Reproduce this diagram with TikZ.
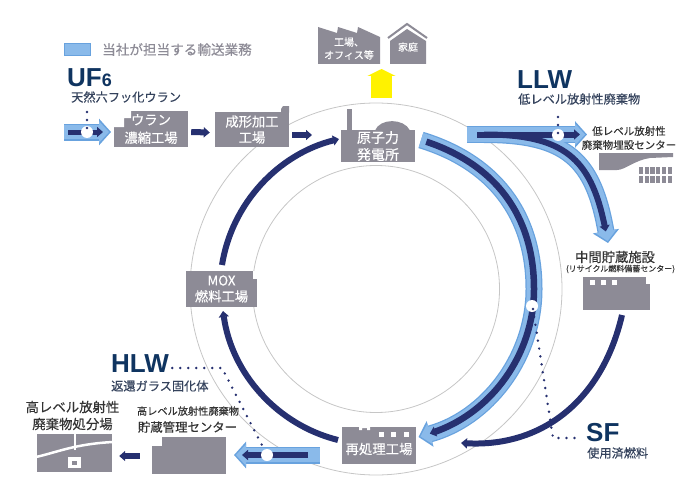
\documentclass[tikz,border=0pt]{standalone}
\usepackage{fontspec}
\setmainfont{Noto Sans CJK JP}[FakeBold=0.35]
\setsansfont{Liberation Sans}
\usetikzlibrary{arrows.meta}
\definecolor{bldgray}{RGB}{141,139,150}
\definecolor{ringgray}{RGB}{198,198,198}
\definecolor{bandedge}{RGB}{104,162,222}
\definecolor{bandblue}{RGB}{138,186,234}
\definecolor{bandnavy}{RGB}{38,48,112}
\definecolor{capnavy}{RGB}{15,52,96}
\definecolor{subnavy}{RGB}{52,66,92}
\tikzset{
    bld/.style={fill=bldgray,text=white,inner sep=0pt,align=center,font=\fontsize{13.3}{16}\selectfont},
    capname/.style={text=capnavy,inner sep=0pt,anchor=west,font=\sffamily\bfseries\fontsize{26}{26}\selectfont},
    sublabel/.style={text=subnavy,inner sep=0pt,anchor=west,font=\fontsize{12.2}{12}\selectfont},
    sitelabel/.style={text=black!80,inner sep=0pt,align=center},
    intext/.style={text=white,inner sep=0pt,align=center,font=\fontsize{10}{13}\selectfont},
    bandouter/.style={bandedge,line width=17pt,-{Triangle[length=12pt,width=26pt]}},
    bandinner/.style={bandblue,line width=14.5pt,shorten >=2pt,-{Triangle[length=10pt,width=21pt]}},
    core/.style={bandnavy,line width=6pt,-{Triangle[length=6pt,width=10pt]}},
    dotline/.style={bandnavy,line width=2.7pt,line cap=round,dash pattern=on 0pt off 8pt},
    whitemark/.style={circle,fill=white,minimum size=12pt,inner sep=0pt},
    ring/.style={ringgray,line width=0.8pt},
}
\begin{document}
\begin{tikzpicture}[x=1pt,y=1pt]
    \useasboundingbox (0,0) rectangle (700,-500);
    \coordinate (hub) at (376,-289);
    \draw[ring] (hub) circle[radius=186pt];
    \draw[ring] (hub) circle[radius=123.5pt];

    \node[fill=bandblue,draw=bandedge,minimum width=26pt,minimum height=12pt,inner sep=0pt] (legendKey) at (77.5,-49.5) {};
    \node[text=bldgray,inner sep=0pt,anchor=west,font=\fontsize{13.6}{14}\selectfont] (legendText) at (102,-49.5) {当社が担当する輸送業務};

    \node[capname] (uf) at (67,-78) {UF{\fontsize{18}{18}\selectfont 6}};
    \node[sublabel] (ufSub) at (71,-97) {天然六フッ化ウラン};
    \node[capname] (llw) at (517,-80) {LLW};
    \node[sublabel] (llwSub) at (518,-99) {低レベル放射性廃棄物};
    \node[capname] (hlw) at (111,-364) {HLW};
    \node[sublabel] (hlwSub) at (111,-386) {返還ガラス固化体};
    \node[capname] (sf) at (586,-433) {SF};
    \node[sublabel] (sfSub) at (587,-453) {使用済燃料};

    % buildings
    \node[bld,minimum width=74pt,minimum height=36pt] (uran) at (151,-129) {ウラン\\[2pt]濃縮工場};
    \fill[white] (113.5,-110.5) rectangle (124,-127) (124,-110.5) rectangle (131,-118);
    \node[bld,minimum width=74pt,minimum height=35pt] (fab) at (252,-129.5) {成形加工\\工場};
    \fill[bldgray] (281,-112.5) -- (281,-109) -- (283,-106) -- (289,-106) -- (289,-112.5) -- cycle;
    \node[bld,minimum width=74pt,minimum height=32pt,font=\fontsize{14}{17}\selectfont] (plant) at (378,-146) {原子力\\発電所};
    \fill[bldgray] (347,-131) rectangle (352,-109);
    \fill[bldgray] (375,-130.5) .. controls (380,-118) and (404,-118) .. (410,-130.5) -- cycle;
    \node[bld,minimum width=71pt,minimum height=36pt] (mox) at (221.5,-289) {MOX\\燃料工場};
    \fill[white] (253,-270.5) rectangle (257.5,-279);
    \node[bld,minimum width=67pt,minimum height=33pt] (store) at (616.5,-293.5) {};
    \fill[white] (646,-276.5) rectangle (650.5,-284);
    \foreach \xpos in {592,603,614} \fill[white] (\xpos-2.5,-280) rectangle (\xpos+2.5,-285);
    \node[bld,minimum width=74pt,minimum height=37pt] (repro) at (379,-445.5) {};
    \node[intext,font=\fontsize{13.4}{14}\selectfont] (reproName) at (379,-449) {再処理工場};
    \fill[white] (359,-426.5) rectangle (362,-430) (367,-426.5) rectangle (370,-430) (362,-426.5) rectangle (367,-428);
    \foreach \xpos in {381,393,406} \fill[white] (\xpos-2.5,-432) rectangle (\xpos+2.5,-436.5);
    \node[bld,minimum width=74pt,minimum height=37pt] (hlwStore) at (189,-455.5) {};
    \fill[white] (151.5,-436.5) rectangle (162,-446);
    \node[bld,minimum width=75pt,minimum height=38pt] (hlwPit) at (74.5,-453) {};
    \draw[white,line width=2.5pt] (36,-457) .. controls (58,-452) and (75,-444) .. (113,-442);
    \draw[white,line width=2.5pt] (75,-433) -- (75,-450);
    \fill[white] (68,-457) rectangle (81,-468);
    \fill[bldgray] (72,-460.5) rectangle (77,-465);

    \fill[bldgray] (318,-27) -- (337,-33) -- (338,-27) -- (357,-33) -- (358,-27) -- (380,-37) -- (380,-64) -- (318,-64) -- cycle;
    \node[intext] (office) at (349,-48.5) {工場、\\オフィス等};
    \draw[bldgray,line width=2pt] (388,-38) -- (407,-24) -- (427,-38);
    \fill[bldgray] (390,-41) -- (407,-29) -- (426,-41) -- (426,-64) -- (390,-64) -- cycle;
    \node[intext] (home) at (408,-47) {家庭};
    \fill[bldgray] (599,-153) -- (673,-153) -- (673,-157) -- (650,-158) .. controls (635,-160) and (625,-170) .. (617,-170) -- (599,-170) -- cycle;
    \foreach \xpos in {639,644.7,650.4,656.1,661.8,667.5} \foreach \ypos in {-167,-176} \fill[bldgray] (\xpos,\ypos) rectangle (\xpos+4.3,\ypos-6.5);

    % site labels
    \node[sitelabel,font=\fontsize{10.5}{14}\selectfont] (llwSite) at (629,-138) {低レベル放射性\\廃棄物埋設センター};
    \node[sitelabel,font=\fontsize{13.3}{13}\selectfont] (storeName) at (615,-257) {中間貯蔵施設};
    \node[sitelabel,font=\fontsize{8}{8}\selectfont] (storeSub) at (620.5,-269) {(リサイクル燃料備蓄センター)};
    \node[sitelabel,font=\fontsize{13.4}{17}\selectfont] (pitName) at (72.5,-415.5) {高レベル放射性\\廃棄物処分場};
    \node[sitelabel,font=\fontsize{10.2}{10.2}\selectfont] (hlwName) at (188,-411) {高レベル放射性廃棄物};
    \node[sitelabel,font=\fontsize{12.4}{12.4}\selectfont] (hlwCenter) at (187.5,-427) {貯蔵管理センター};

    % blue transport bands
    \coordinate (ufIn) at (64,-132);
    \coordinate (ufOut) at (111,-132);
    \coordinate (llwIn) at (467,-134.5);
    \coordinate (llwOut) at (587,-134.5);
    \coordinate (llwBend) at (484,-134.5);
    \coordinate (storeIn) at (608,-243);
    \coordinate (sfIn) at (421,-140);
    \coordinate (sfMid) at (534,-289);
    \coordinate (sfOut) at (418.5,-437);
    \coordinate (hlwIn) at (320,-455);
    \coordinate (hlwOut) at (234,-455);
    \foreach \layer in {bandouter,bandinner} {
        \draw[\layer] (ufIn) -- (ufOut);
        \draw[\layer] (llwIn) -- (llwOut);
        \draw[\layer] (llwBend) .. controls (567.8,-134.5) and (593.45,-160.5) .. (storeIn);
        \draw[\layer] (sfIn) .. controls (493.1,-162) and (534,-213.6) .. (sfMid) .. controls (534,-358.8) and (485.9,-418.9) .. (sfOut);
        \draw[\layer] (hlwIn) -- (hlwOut);
    }

    % navy flows
    \coordinate (moxOut) at (222,-265);
    \coordinate (plantIn) at (339,-139);
    \coordinate (reproOut) at (338,-440);
    \coordinate (moxIn) at (223,-311);
    \coordinate (storeOut) at (622,-315);
    \coordinate (reproIn) at (461,-443);
    \coordinate (llwCoreIn) at (477,-134.5);
    \coordinate (llwCoreOut) at (580,-134.5);
    \coordinate (storeCoreIn) at (605.8,-231.5);
    \coordinate (sfCoreIn) at (426.3,-141.7);
    \coordinate (sfCoreOut) at (429.8,-433.6);
    \draw[core] (moxOut) to[out=81,in=194,looseness=.93] (plantIn);
    \draw[core] (reproOut) to[out=166,in=278,looseness=.93] (moxIn);
    \draw[core] (storeOut) to[out=-103,in=-3,looseness=1.05] (reproIn);
    \draw[core] ([shift={(3,-3)}]uran.east) -- ([shift={(-5,-3)}]fab.west);
    \draw[core] ([shift={(3,-5.5)}]fab.east) -- (312,-135);
    \draw[core] ([shift={(-12,-0.5)}]hlwStore.west) -- ([shift={(7,-3)}]hlwPit.east);
    \draw[core,line width=5pt] (68,-132) -- (103,-132);
    \draw[core] (llwCoreIn) -- (llwCoreOut);
    \draw[core] (llwBend) .. controls (563.8,-134.5) and (590.8,-158.1) .. (storeCoreIn);
    \draw[core,line width=6.5pt] (sfCoreIn) .. controls (495.1,-164.6) and (534,-215.5) .. (sfMid) .. controls (534,-354.8) and (491.2,-412) .. (sfCoreOut);
    \draw[core] (308,-455) -- (242,-455);

    % supply to consumers
    \coordinate (powerOut) at (381.5,-98);
    \coordinate (powerIn) at (381.5,-69);
    \draw[yellow,line width=21pt,-{Triangle[length=7pt,width=28pt]}] (powerOut) -- (powerIn);

    % marks and leaders
    \node[whitemark] (ufMark) at (87,-132) {};
    \node[whitemark] (llwMark) at (558,-135) {};
    \node[whitemark] (hlwMark) at (267,-455) {};
    \node[whitemark] (sfMark) at (532,-306) {};
    \coordinate (ufDot) at (87,-128);
    \coordinate (llwDot) at (558,-133);
    \coordinate (hlwDot) at (265,-451);
    \coordinate (sfDot) at (533,-309);
    \coordinate (hlwTurn) at (222,-368);
    \coordinate (sfTurn) at (553,-438);
    \draw[dotline] (ufDot) -- (87,-112);
    \draw[dotline] (llwDot) -- (558,-110);
    \draw[dotline] (hlw.east) ++(3,-4) -- (hlwTurn) -- (hlwDot);
    \draw[dotline] (sfDot) -- (sfTurn) -- (581,-438);
\end{tikzpicture}
\end{document}
